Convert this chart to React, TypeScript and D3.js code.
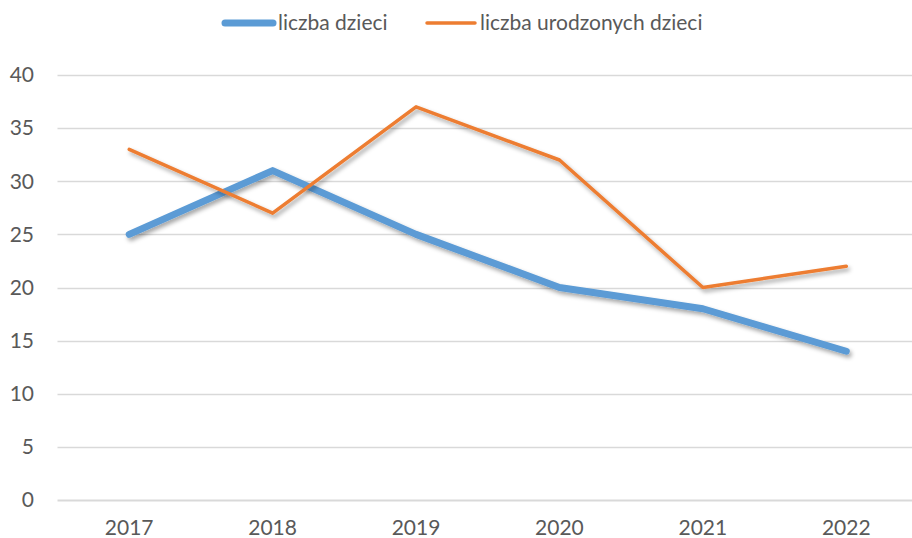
import { useEffect, useRef } from "react";
import * as d3 from "d3";

const years = ["2017", "2018", "2019", "2020", "2021", "2022"];
const liczbaDzieci = [25, 31, 25, 20, 18, 14];
const liczbaUrodzonych = [33, 27, 37, 32, 20, 22];
const yTicks = [0, 5, 10, 15, 20, 25, 30, 35, 40];

export default function App() {
  const ref = useRef<SVGSVGElement>(null);

  useEffect(() => {
    if (!ref.current) return;
    const W = 912;
    const H = 538;
    const font = "Lato, 'Open Sans', sans-serif";
    const svg = d3.select(ref.current);
    svg.selectAll("*").remove();
    svg.attr("width", W).attr("height", H);

    svg.append("rect").attr("width", W).attr("height", H).attr("fill", "#fff");

    // drop shadow like the office chart
    const defs = svg.append("defs");
    const f = defs
      .append("filter")
      .attr("id", "shadow")
      .attr("x", "-10%")
      .attr("y", "-10%")
      .attr("width", "120%")
      .attr("height", "130%");
    f.append("feDropShadow")
      .attr("dx", 2)
      .attr("dy", 3)
      .attr("stdDeviation", 2)
      .attr("flood-color", "#000")
      .attr("flood-opacity", 0.35);

    const x = d3.scaleBand().domain(years).range([57.5, 918]);
    const y = d3.scaleLinear().domain([0, 40]).range([500, 75]);

    // grid
    svg
      .append("g")
      .selectAll("line")
      .data(yTicks)
      .enter()
      .append("line")
      .attr("x1", 57.5)
      .attr("x2", W)
      .attr("y1", (d) => Math.round(y(d)) + 0.5)
      .attr("y2", (d) => Math.round(y(d)) + 0.5)
      .attr("stroke", "#d9d9d9")
      .attr("stroke-width", (d) => (d === 0 ? 2 : 1.3));

    // y labels
    svg
      .append("g")
      .selectAll("text")
      .data(yTicks)
      .enter()
      .append("text")
      .attr("x", 34)
      .attr("y", (d) => y(d))
      .attr("dy", "0.35em")
      .attr("text-anchor", "end")
      .style("font-family", font)
      .style("font-size", "21px")
      .style("fill", "#595959")
      .text((d) => d);

    // x labels
    svg
      .append("g")
      .selectAll("text")
      .data(years)
      .enter()
      .append("text")
      .attr("x", (d) => x(d)! + x.bandwidth() / 2)
      .attr("y", 535)
      .attr("text-anchor", "middle")
      .style("font-family", font)
      .style("font-size", "21px")
      .style("fill", "#595959")
      .text((d) => d);

    const line = d3
      .line<number>()
      .x((_, i) => x(years[i])! + x.bandwidth() / 2)
      .y((d) => y(d));

    svg
      .append("path")
      .attr("d", line(liczbaDzieci))
      .attr("fill", "none")
      .attr("stroke", "#5b9bd5")
      .attr("stroke-width", 7)
      .attr("stroke-linecap", "round")
      .attr("stroke-linejoin", "round")
      .attr("filter", "url(#shadow)");

    svg
      .append("path")
      .attr("d", line(liczbaUrodzonych))
      .attr("fill", "none")
      .attr("stroke", "#ed7d31")
      .attr("stroke-width", 3.5)
      .attr("stroke-linecap", "round")
      .attr("stroke-linejoin", "round")
      .attr("filter", "url(#shadow)");

    // legend
    const legend = [
      { label: "liczba dzieci", color: "#5b9bd5", w: 7, x: 225 },
      { label: "liczba urodzonych dzieci", color: "#ed7d31", w: 3.5, x: 427 },
    ];
    const lg = svg.append("g");
    legend.forEach((l) => {
      lg.append("line")
        .attr("x1", l.x)
        .attr("x2", l.x + 48)
        .attr("y1", 23)
        .attr("y2", 23)
        .attr("stroke", l.color)
        .attr("stroke-width", l.w)
        .attr("stroke-linecap", "round");
      lg.append("text")
        .attr("x", l.x + 53)
        .attr("y", 23)
        .attr("dy", "0.35em")
        .style("font-family", font)
        .style("font-size", "21px")
        .style("fill", "#595959")
        .text(l.label);
    });
  }, []);

  return (
    <svg
      ref={ref}
      style={{ position: "absolute", left: 0, top: 0, display: "block" }}
    />
  );
}
